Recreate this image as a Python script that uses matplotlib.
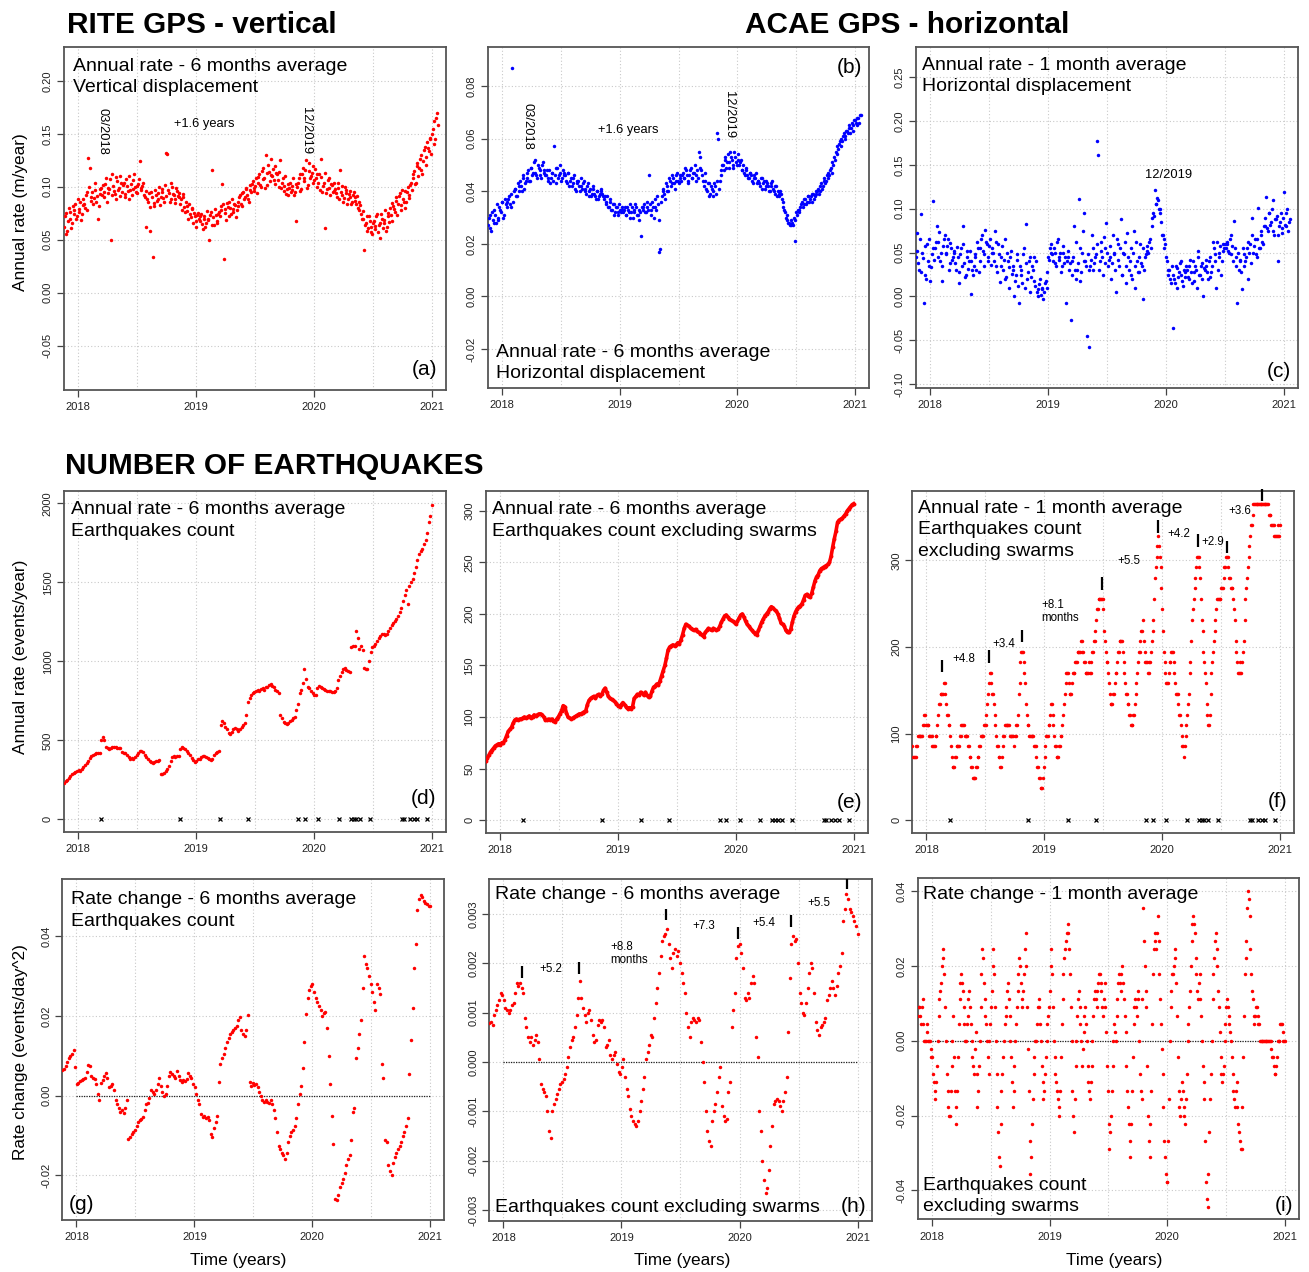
import numpy as np
import matplotlib
matplotlib.use("Agg")
import matplotlib.pyplot as plt

plt.rcParams['font.family'] = ['Liberation Sans', 'DejaVu Sans']
plt.rcParams['axes.unicode_minus'] = False

# ---------------- DATA ----------------
T0 = 2017.88            # first sample (decimal year)
STEP_DAYS = 5           # sampling step of the values below
MID_DAYS = 2.5          # offset of the in-between samples

# (a) RITE vertical annual rate, 6-month average (x 1e-3 m/yr)
a_vals = [62, 75, 58, 80, 70, 66, 78, 84, 72, 79, 86, 74,
          88, 80, 95, 127, 118, 90, 84, 97, 86, 70, 93, 99,
          102, 90, 108, 94, 98, 50, 112, 96, 88, 105, 99, 110,
          95, 104, 90, 101, 110, 97, 92, 106, 100, 94, 103, 124,
          97, 104, 90, 62, 86, 58, 95, 34, 82, 92, 88, 100,
          90, 98, 86, 132, 131, 94, 88, 100, 92, 85, 96, 90,
          84, 78, 90, 76, 82, 70, 74, 80, 66, 72, 62, 75,
          68, 74, 60, 72, 66, 70, 50, 76, 116, 64, 73, 68,
          76, 82, 103, 32, 79, 85, 72, 80, 88, 76, 83, 78,
          86, 92, 82, 95, 90, 98, 88, 102, 95, 105, 99, 108,
          104, 112, 100, 118, 108, 130, 102, 114, 126, 110, 106, 120,
          112, 100, 125, 104, 96, 110, 98, 92, 104, 97, 108, 95,
          68, 104, 112, 98, 118, 108, 125, 102, 115, 110, 120, 106,
          108, 100, 112, 126, 95, 104, 61, 98, 108, 92, 102, 96,
          98, 90, 104, 116, 92, 86, 100, 94, 88, 96, 84, 92,
          90, 84, 80, 86, 74, 70, 40, 66, 58, 72, 62, 55,
          68, 60, 74, 64, 52, 70, 66, 78, 62, 72, 80, 68,
          82, 76, 90, 84, 94, 78, 88, 96, 86, 100, 92, 104,
          108, 115, 104, 122, 118, 130, 112, 135, 128, 142, 134, 146,
          150, 162, 145, 170]
a_mid = [72, 55, 68, 76, 61, 82, 74, 70, 88, 76, 69, 83,
         84, 92, 78, 100, 87, 95, 89, 104, 91, 82, 98, 92,
         95, 103, 86, 99, 107, 92, 101, 93, 109, 97, 91, 104,
         102, 93, 107, 96, 88, 103, 98, 112, 95, 101, 107, 99,
         101, 92, 96, 88, 94, 81, 90, 85, 97, 87, 94, 83,
         95, 89, 102, 91, 97, 86, 104, 93, 88, 99, 91, 94,
         88, 93, 81, 86, 77, 84, 71, 79, 75, 68, 73, 70,
         72, 65, 70, 62, 77, 69, 73, 64, 71, 79, 66, 74,
         72, 78, 84, 75, 69, 81, 86, 74, 79, 84, 71, 82,
         90, 84, 94, 88, 99, 92, 86, 97, 103, 96, 101, 94,
         109, 102, 115, 107, 99, 113, 121, 105, 111, 117, 103, 113,
         106, 114, 99, 108, 101, 93, 103, 99, 95, 101, 92, 103,
         100, 108, 96, 112, 105, 116, 99, 122, 108, 113, 104, 117,
         112, 104, 97, 109, 101, 113, 94, 106, 99, 103, 95, 104,
         94, 99, 88, 95, 101, 89, 97, 84, 93, 90, 86, 95,
         87, 91, 78, 83, 70, 77, 64, 72, 61, 68, 57, 66,
         63, 72, 57, 66, 74, 61, 69, 58, 75, 67, 73, 85,
         79, 87, 73, 91, 83, 97, 86, 80, 95, 89, 102, 97,
         112, 103, 120, 110, 126, 116, 124, 138, 121, 137, 145, 131,
         155, 140, 165, 158]

# (b) ACAE horizontal annual rate, 6-month average (x 1e-3 m/yr)
b_vals = [27, 31, 25, 29, 33, 28, 30, 34, 32, 36, 31, 35,
          36, 38, 34, 87, 40, 41, 38, 42, 44, 40, 45, 43,
          45, 48, 44, 49, 47, 52, 46, 50, 48, 45, 51, 47,
          46, 44, 48, 45, 47, 57, 43, 49, 46, 50, 45, 47,
          46, 43, 47, 44, 42, 45, 41, 43, 44, 40, 42, 43,
          41, 39, 43, 40, 38, 41, 39, 37, 40, 38, 41, 39,
          37, 35, 38, 34, 36, 33, 35, 32, 34, 31, 33, 34,
          32, 34, 31, 33, 35, 32, 30, 33, 34, 31, 29, 23,
          33, 35, 32, 34, 46, 33, 36, 30, 34, 38, 17, 18,
          38, 41, 37, 42, 40, 44, 43, 45, 41, 46, 44, 45,
          44, 47, 45, 48, 43, 46, 49, 45, 47, 44, 48, 55,
          53, 46, 42, 44, 40, 43, 39, 41, 38, 42, 62, 60,
          44, 48, 50, 52, 49, 54, 51, 53, 50, 55, 51, 52,
          50, 52, 48, 47, 49, 46, 45, 47, 44, 46, 45, 43,
          44, 42, 45, 43, 41, 44, 42, 40, 43, 41, 39, 42,
          40, 38, 39, 36, 33, 30, 29, 28, 27, 28, 30, 21,
          31, 33, 34, 36, 35, 37, 36, 38, 37, 36, 39, 38,
          39, 41, 40, 43, 42, 45, 44, 47, 46, 49, 51, 53,
          55, 57, 58, 60, 59, 62, 61, 63, 64, 62, 66, 65,
          67, 65, 68, 69]
b_mid = [30, 26, 32, 28, 31, 35, 29, 33, 36, 30, 37, 34,
         37, 35, 39, 36, 41, 38, 43, 40, 42, 46, 41, 44,
         47, 44, 49, 46, 51, 47, 45, 49, 46, 50, 48, 46,
         48, 45, 43, 47, 44, 46, 49, 45, 47, 44, 48, 46,
         44, 47, 42, 45, 43, 46, 40, 44, 42, 45, 41, 44,
         40, 42, 38, 41, 39, 42, 38, 40, 37, 39, 40, 38,
         38, 36, 34, 37, 33, 35, 31, 34, 32, 35, 32, 33,
         33, 31, 34, 32, 30, 34, 32, 35, 31, 33, 32, 34,
         34, 32, 36, 33, 35, 31, 34, 37, 33, 35, 29, 36,
         40, 39, 43, 40, 45, 42, 46, 43, 44, 47, 43, 46,
         46, 45, 49, 46, 44, 48, 45, 47, 50, 46, 45, 49,
         48, 44, 47, 41, 43, 38, 42, 40, 43, 39, 44, 41,
         46, 50, 48, 53, 51, 49, 55, 52, 49, 53, 50, 54,
         51, 48, 50, 46, 48, 45, 47, 46, 43, 45, 47, 44,
         43, 45, 41, 44, 42, 43, 40, 42, 44, 40, 42, 38,
         39, 40, 37, 34, 32, 31, 28, 27, 29, 27, 29, 32,
         33, 32, 35, 34, 37, 35, 38, 36, 38, 39, 37, 40,
         40, 39, 42, 41, 44, 43, 46, 45, 48, 47, 50, 52,
         54, 56, 59, 57, 61, 60, 63, 62, 65, 64, 63, 67,
         66, 68, 66, 69]

# (c) ACAE horizontal annual rate, 1-month average (x 1e-3 m/yr)
c_vals = [45, 72, 30, 94, 50, -7, 25, 60, 35, 18, 48, 109,
          55, 80, 62, 40, 18, 58, 70, 50, 65, 38, 55, 45,
          50, 30, 45, 15, 55, 80, 38, 25, 52, 40, 3, 30,
          35, 45, 62, 28, 55, 70, 48, 76, 60, 40, 65, 55,
          50, 75, 35, 60, 16, 45, 30, 66, 22, 40, 10, 52,
          35, 0, 25, 48, -7, 30, 15, 55, 83, 20, 40, 5,
          35, 45, 12, 5, 0, 20, 8, -3, 15, 10, 45, 55,
          60, 40, 50, 35, 65, 45, 28, 50, 38, -8, 45, 30,
          -27, 40, 80, 20, 30, 111, 18, 50, 95, 40, -45, -58,
          35, 70, 30, 45, 177, 161, 40, 62, 25, 55, 84, 35,
          45, 20, 70, 50, 5, 60, 35, 88, 25, 48, 15, 72,
          30, 55, 20, 75, 10, 40, 28, 60, 35, -3, 45, 52,
          50, 65, 90, 95, 121, 105, 110, 100, 85, 70, 65, 45,
          25, 30, 15, -36, 20, 35, 10, 28, 40, 18, 30, 22,
          30, 20, 42, 15, 28, 35, 10, 52, 25, 38, 0, 30,
          35, 20, 45, 28, 62, 40, 10, 30, 50, 25, 60, 55,
          55, 62, 50, 70, 58, 86, 45, -7, 30, 40, 8, 35,
          40, 55, 20, 60, 90, 50, 65, 45, 101, 55, 70, 60,
          80, 113, 75, 95, 85, 110, 70, 88, 40, 80, 95, 72,
          119, 80, 100, 85]
c_mid = [52, 38, 65, 28, 44, 58, 20, 40, 66, 33, 55, 42,
         62, 45, 73, 50, 35, 66, 48, 57, 30, 61, 42, 52,
         38, 56, 28, 48, 35, 60, 22, 45, 31, 52, 40, 25,
         48, 30, 55, 40, 66, 52, 35, 62, 45, 58, 36, 50,
         40, 62, 28, 48, 35, 58, 42, 20, 50, 33, 45, 26,
         30, 18, 42, 12, 35, 25, 48, 10, 38, 28, 45, 22,
         30, 18, 40, 8, 14, 2, 10, 5, 18, 28, 42, 50,
         48, 55, 38, 62, 42, 50, 35, 58, 45, 40, 52, 38,
         25, 45, 30, 62, 38, 55, 28, 75, 40, 35, 48, 30,
         42, 55, 38, 48, 60, 30, 52, 45, 68, 38, 50, 42,
         58, 38, 48, 30, 65, 42, 55, 25, 50, 62, 35, 45,
         40, 25, 50, 35, 62, 28, 45, 38, 55, 30, 48, 58,
         62, 55, 80, 92, 105, 112, 100, 95, 70, 55, 60, 40,
         30, 20, 35, 25, 15, 32, 22, 38, 25, 12, 28, 35,
         22, 35, 28, 40, 18, 30, 45, 25, 35, 20, 32, 42,
         28, 40, 22, 35, 55, 48, 62, 45, 58, 40, 52, 60,
         60, 52, 65, 48, 40, 55, 35, 50, 42, 28, 55, 48,
         45, 62, 50, 38, 70, 58, 48, 65, 55, 75, 62, 80,
         90, 78, 95, 82, 100, 75, 88, 92, 70, 85, 78, 90,
         82, 95, 75, 88]

# (d) earthquakes annual rate, 6-month average (events/yr)
d_vals = [231, 240, 252, 262, 275, 288, 295, 300, 305, 310, 305, 318,
          330, 345, 358, 372, 390, 400, 410, 415, 418, 420, 420, 500,
          520, 500, 455, 450, 448, 452, 455, 458, 455, 450, 452, 450,
          425, 422, 420, 410, 395, 385, 390, 385, 395, 410, 420, 430,
          435, 425, 410, 395, 380, 370, 360, 355, 365, 370, 372, 375,
          290, 285, 295, 305, 320, 340, 370, 395, 398, 395, 400, 400,
          445, 455, 450, 445, 435, 420, 405, 390, 375, 365, 370, 380,
          385, 395, 400, 398, 395, 390, 385, 375, 385, 405, 420, 425,
          430, 600, 620, 610, 585, 570, 545, 540, 555, 570, 580, 575,
          560, 570, 585, 600, 610, 660, 740, 770, 790, 800, 805, 810,
          820, 815, 825, 830, 820, 835, 840, 850, 855, 845, 835, 820,
          810, 800, 660, 640, 615, 610, 605, 610, 620, 630, 640, 650,
          690, 730, 800, 820, 860, 950, 890, 840, 830, 815, 800, 790,
          785, 830, 845, 840, 830, 825, 820, 815, 812, 810, 808, 805,
          810, 830, 880, 910, 930, 950, 955, 945, 940, 930, 1090, 1100,
          1095, 1190, 1150, 1080, 1100, 1070, 955, 950, 950, 1000, 1060, 1090,
          1100, 1110, 1130, 1150, 1160, 1170, 1170, 1165, 1175, 1190, 1210, 1230,
          1240, 1255, 1270, 1290, 1310, 1340, 1380, 1420, 1450, 1360, 1480, 1500,
          1520, 1560, 1600, 1640, 1680, 1700, 1710, 1740, 1770, 1810, 1880, 1920,
          1990]

# (e) earthquakes excluding swarms, annual rate, 6-month average
e_vals = [57, 60, 63, 66, 68, 70, 72, 73, 74, 73, 75, 75,
          78, 82, 86, 88, 90, 94, 97, 98, 97, 98, 98, 99,
          100, 99, 100, 101, 99, 100, 102, 101, 102, 103, 103, 102,
          100, 97, 97, 98, 97, 98, 96, 95, 98, 100, 103, 106,
          111, 110, 104, 100, 99, 98, 99, 100, 101, 102, 103, 103,
          104, 105, 106, 112, 116, 118, 119, 120, 118, 121, 122, 120,
          122, 126, 128, 124, 120, 118, 117, 116, 115, 113, 111, 110,
          112, 114, 112, 110, 108, 109, 108, 110, 118, 120, 122, 121,
          124, 123, 121, 124, 121, 119, 120, 125, 129, 130, 132, 131,
          135, 140, 145, 150, 157, 165, 168, 169, 170, 169, 170, 172,
          171, 175, 180, 186, 190, 189, 188, 186, 185, 184, 185, 183,
          182, 181, 180, 178, 182, 184, 186, 185, 184, 186, 185, 184,
          185, 188, 192, 195, 198, 199, 197, 195, 194, 193, 192, 190,
          193, 196, 199, 200, 197, 193, 190, 188, 186, 184, 182, 181,
          180, 184, 188, 192, 195, 198, 200, 202, 205, 207, 206, 204,
          203, 200, 196, 191, 190, 188, 184, 182, 182, 185, 192, 198,
          202, 205, 207, 208, 210, 214, 218, 219, 217, 216, 220, 226,
          232, 236, 238, 242, 244, 245, 246, 247, 248, 250, 256, 265,
          273, 280, 289, 291, 292, 293, 295, 297, 300, 302, 304, 306,
          307]

# (f) events in a 30-day window, excluding swarms (annual rate = count*365/30)
f_counts = [7, 6, 6, 7, 8, 8, 8, 9, 10, 9, 9, 8,
            8, 7, 7, 8, 10, 11, 12, 12, 13, 11, 10, 9,
            7, 5, 5, 6, 7, 7, 8, 9, 9, 8, 8, 7,
            6, 5, 4, 4, 5, 6, 7, 8, 8, 9, 10, 12,
            14, 13, 12, 10, 8, 7, 6, 5, 7, 8, 9, 9,
            9, 8, 8, 7, 8, 9, 12, 15, 16, 15, 13, 10,
            9, 8, 8, 8, 7, 6, 5, 4, 3, 4, 6, 8,
            8, 9, 11, 10, 8, 7, 6, 7, 8, 9, 11, 13,
            14, 13, 12, 13, 14, 15, 15, 16, 16, 17, 16, 15,
            14, 14, 14, 15, 16, 17, 19, 20, 21, 21, 21, 18,
            16, 15, 13, 11, 11, 12, 14, 15, 16, 17, 17, 15,
            13, 12, 11, 10, 9, 10, 11, 13, 15, 16, 18, 19,
            16, 15, 14, 15, 16, 18, 21, 24, 26, 26, 24, 20,
            16, 14, 13, 14, 15, 16, 15, 13, 12, 11, 10, 8,
            7, 7, 9, 11, 14, 17, 20, 22, 24, 25, 24, 21,
            18, 15, 13, 10, 9, 12, 15, 17, 19, 21, 21, 21,
            22, 23, 24, 25, 24, 23, 22, 21, 19, 16, 14, 14,
            14, 16, 19, 22, 24, 26, 28, 29, 30, 30, 30, 30,
            30, 30, 30, 30, 30, 29, 29, 28, 28, 27, 27, 27,
            28]
f_mid = [6, 6, 7, 8, 8, 8, 9, 10, 9, 9, 8, 8,
         7, 7, 8, 9, 11, 12, 12, 13, 12, 10, 9, 8,
         6, 5, 6, 7, 7, 8, 9, 9, 8, 8, 7, 6,
         5, 4, 4, 5, 6, 7, 8, 8, 9, 9, 11, 13,
         14, 12, 11, 9, 7, 6, 5, 6, 8, 9, 9, 9,
         8, 8, 8, 8, 9, 10, 13, 16, 16, 14, 11, 9,
         8, 8, 8, 7, 7, 5, 4, 3, 3, 5, 7, 8,
         9, 10, 11, 9, 7, 6, 6, 7, 8, 10, 12, 14,
         14, 12, 12, 14, 14, 15, 16, 16, 17, 16, 15, 14,
         14, 15, 14, 16, 17, 18, 20, 21, 21, 21, 20, 17,
         15, 14, 12, 11, 12, 13, 14, 16, 17, 17, 16, 14,
         12, 11, 10, 9, 9, 10, 12, 14, 16, 17, 18, 17,
         15, 15, 14, 15, 17, 19, 23, 25, 27, 25, 22, 18,
         15, 13, 13, 15, 16, 16, 14, 12, 12, 10, 9, 7,
         6, 8, 10, 12, 15, 19, 21, 23, 25, 25, 23, 19,
         16, 14, 11, 9, 10, 14, 16, 18, 20, 21, 21, 22,
         22, 24, 25, 25, 23, 22, 22, 20, 17, 15, 14, 15,
         15, 17, 21, 23, 25, 27, 28, 30, 30, 30, 30, 30,
         30, 30, 30, 30, 30, 29, 28, 28, 27, 27, 28, 27]
WINDOW_DAYS = 30

# (g) rate change, 6-month average, all earthquakes (x 1e-3 events/day^2)
g_vals = [6.5, 6.6, 7.5, 8.5, 9.5, 10, 10.5, 11.5, 7.3, 3.0, 3.3, 3.6,
          4.0, 4.2, 4.5, 6.0, 7.7, 7.5, 5.0, 4.4, 4.2, 3.0, 0.5, -1.1,
          3.1, 4.0, 5.0, 5.6, 4.5, 2.3, 2.5, 3.0, 1.5, -1.0, -2.0, -3.0,
          -4.0, -3.5, -4.4, -3.0, -1.0, -10.8, -10.3, -9.5, -9.0, -8.6, -7.5, -6.5,
          -6.0, -5.8, -5.3, -3.5, -2.2, -1.8, -0.5, 1.4, 1.0, 0.5, 1.5, 3.0,
          4.5, 2.5, 1.0, 0.0, 0.5, 2.5, 5.0, 6.0, 5.5, 5.0, 4.5, 6.3,
          5.0, 4.0, 3.5, 4.0, 3.8, 4.2, 5.6, 5.0, 4.5, 3.0, 2.3, 0.5,
          -1.0, -2.0, -4.5, -5.3, -5.0, -5.6, -5.3, -6.0, -9.5, -10.3, -8.0, -6.5,
          -5.0, 3.5, 8.0, 9.5, 10.5, 12.0, 13.5, 14.5, 15.5, 16.0, 16.5, 17.0,
          17.5, 19.0, 19.8, 16.5, 15.5, 15.0, 16.5, 20.2, 3.5, 2.5, 3.2, 2.8,
          3.0, 2.3, 1.0, 0.0, -1.0, -1.5, -1.0, -1.5, -1.8, -1.2, -2.0, -3.5,
          -5.5, -9.0, -12.5, -13.5, -14.5, -15.0, -15.8, -14.5, -11.5, -10.0, -9.0, -8.5,
          -7.5, -5.5, -2.0, 0.5, 2.5, 7.0, 13.5, 20.5, 24.5, 26.5, 27.5, 28.0,
          26.0, 24.5, 23.5, 22.5, 21.5, 20.0, 20.7, 21.0, 17.0, 10.0, 3.0, -5.0,
          -12.0, -26.0, -26.2, -25.0, -23.0, -22.0, -21.0, -19.5, -17.5, -16.0, -15.0, -11.0,
          -4.0, -3.0, 9.5, 12.0, 15.5, 19.0, 27.0, 35.0, 33.0, 32.0, 30.0, 28.0,
          26.0, 23.5, 21.5, 28.0, 27.0, 25.5, 8.0, 4.5, -11.0, -11.5, -17.5, -19.0,
          -20.0, -17.0, -15.5, -14.5, -13.5, -12.5, -11.5, -10.0, -9.0, -7.5, -5.5, 5.5,
          14.0, 22.0, 32.0, 38.0, 46.5, 49.5, 50.5, 50.0, 49.0, 48.5, 48.0, 47.5,
          47.5]

# (h) rate change, 6-month average, excluding swarms (x 1e-4 events/day^2)
h_vals = [7.8, 8.0, 7.5, 9.5, 10.5, 11.5, 12.5, 14.0, 13.5, 12.5, 11.0, 10.5,
          10.0, 10.5, 11.5, 12.0, 14.0, 16.0, 15.5, 16.0, 15.0, 14.0, 9.0, 7.0,
          5.0, 4.0, 5.0, 3.5, 4.5, 5.5, 4.0, 0.5, -4.4, -5.5, -6.0, -7.0,
          -10.0, -14.0, -15.5, -10.0, -8.5, -7.5, -6.5, -5.5, -4.5, -4.0, -3.5, -2.5,
          -1.0, 1.0, 3.0, 4.5, 5.0, 7.0, 9.5, 13.0, 16.5, 13.0, 11.0, 9.5,
          8.0, 10.0, 10.5, 8.5, 5.5, 4.0, 4.5, 7.5, 8.5, 8.0, 8.5, 7.0,
          3.0, 3.5, 4.5, 1.5, 0.5, 1.5, 2.0, -0.5, -2.0, -2.5, -1.0, 0.5,
          -3.0, -5.5, -7.0, -9.5, -11.0, -12.0, -12.5, -13.0, -12.0, -10.0, -8.0, -5.5,
          -3.0, 0.5, 2.0, 3.5, 5.5, 5.0, 9.0, 12.0, 15.0, 18.0, 21.5, 24.5,
          25.5, 26.0, 27.0, 24.0, 21.0, 19.0, 22.0, 23.0, 21.5, 22.5, 20.0, 18.0,
          16.0, 14.0, 10.0, 7.0, 5.0, 8.0, 9.0, 8.5, 8.0, 9.0, 8.5, 4.0,
          0.0, -4.0, -10.0, -14.0, -16.0, -17.0, -12.0, -10.0, -8.5, -6.0, -3.0, -1.0,
          -9.0, -11.0, -12.0, -11.5, -6.0, -4.0, 7.0, 10.5, 14.0, 21.0, 23.5, 24.0,
          22.0, 19.0, 13.0, 12.5, 14.0, 13.0, 16.0, 17.5, 16.0, 5.0, 1.0, -10.0,
          -14.0, -20.0, -24.0, -26.5, -25.5, -22.0, -17.0, -13.0, -8.5, -8.0, -7.5, -8.0,
          -9.0, -10.0, -8.0, -6.0, -3.0, 6.0, 17.0, 24.0, 25.5, 24.5, 25.0, 20.0,
          14.0, 12.0, 10.0, 9.5, 12.0, 15.0, 18.0, 20.0, 19.0, 14.0, 8.0, 6.5,
          5.5, 7.0, 7.5, 8.0, 9.0, 12.5, 13.5, 15.0, 16.5, 15.0, 13.5, 15.5,
          18.0, 19.5, 22.0, 28.5, 31.0, 34.0, 33.0, 31.0, 30.5, 29.5, 28.5, 27.5,
          26.0]

# (i) rate change, 1-month average, excluding swarms (units of 1/450 events/day^2)
i_counts = [3, 4, 2, 5, 0, 0, 2, 0, -1, -2, -5, -7,
            -3, 3, 6, 9, 11, 4, -4, -8, -9, -3, 3, -6,
            -10, -2, 5, 8, 6, 2, 0, 3, 6, 2, -2, -4,
            1, -8, -3, 4, 11, 7, 3, 0, -4, 2, 6, 11,
            4, -4, -11, -15, -6, -2, 2, 4, 7, 3, -2, -8,
            -3, 2, 6, 10, 7, 4, 8, 13, 4, -6, -16, -10,
            -4, 0, 2, 5, 2, -3, -7, -4, 0, 3, 6, 11,
            4, -2, -5, -7, -9, -2, 5, 10, 12, 14, 11, 4,
            -6, -11, -3, 3, 6, 2, -3, 1, 4, 0, -5, -7,
            -3, 3, 6, 4, 7, 8, 6, 3, 7, 1, -6, -13,
            -9, -3, 2, 0, 5, 8, 6, 9, 5, 1, -6, -10,
            -14, -6, 2, 5, 3, 6, -4, -7, 16, 9, 4, -9,
            -14, -6, 8, 13, 11, 15, 8, 2, -4, -12, -16, -17,
            -7, 4, 8, 9, 11, 3, -6, -9, -5, -8, -10, -4,
            2, 6, 12, 15, 13, 8, 5, 8, 3, -3, -7, -17,
            -20, -11, -4, 5, 10, 13, 9, 4, -2, -5, -3, 2,
            5, 3, 1, -2, -6, -8, -5, -10, -12, -13, -2, 8,
            12, 18, 15, 8, 5, 2, 4, 3, 2, 0, 0, 0,
            0, 0, 0, 0, -2, -3, -4, -2, 0, 2, 2, 0,
            0]
i_mid = [4, 3, 4, 2, 0, 1, 0, 0, -2, -4, -6, -5,
         0, 5, 7, 10, 8, 0, -6, -9, -6, 0, -2, -8,
         -6, 2, 7, 7, 4, 0, 2, 5, 4, 0, -3, -1,
         -4, -6, 0, 8, 10, 5, 2, -2, 0, 4, 9, 8,
         0, -8, -14, -10, -4, 0, 3, 6, 5, 0, -5, -6,
         0, 4, 8, 9, 5, 6, 11, 9, -1, -12, -14, -7,
         -2, 0, 4, 4, 0, -5, -6, -2, 2, 4, 9, 8,
         0, -4, -6, -8, -6, 2, 8, 11, 13, 13, 8, 0,
         -9, -7, 0, 5, 4, 0, -1, 3, 2, -3, -6, -5,
         0, 5, 5, 6, 8, 7, 4, 5, 4, -3, -10, -11,
         -6, 0, 1, 3, 7, 7, 8, 7, 3, -3, -8, -12,
         -10, -2, 4, 4, 5, 0, -6, 5, 12, 6, -3, -12,
         -10, 2, 11, 12, 13, 12, 5, -1, -8, -14, -17, -12,
         0, 6, 8, 10, 7, -2, -8, -7, -6, -9, -7, 0,
         4, 9, 14, 14, 10, 6, 7, 5, 0, -5, -12, -19,
         -16, -7, 0, 8, 12, 11, 6, 1, -4, -4, 0, 4,
         4, 2, 0, -4, -7, -6, -8, -11, -13, -8, 3, 10,
         16, 17, 11, 6, 3, 3, 4, 2, 0, 0, 0, 0,
         0, 0, 0, -1, -2, -4, -3, 0, 0, 2, 1, 0]
I_UNIT = 1 / 450

# swarm dates (x markers at zero)
swarms = [2018.197, 2018.865, 2019.199, 2019.438, 2019.866, 2019.921, 2020.033,
          2020.209, 2020.310, 2020.337, 2020.360, 2020.392, 2020.475, 2020.746,
          2020.766, 2020.811, 2020.845, 2020.876, 2020.959]

# annotations
ann_a = [(2018.21, 0.152, "03/2018"), (2019.93, 0.153, "12/2019")]
ann_a_txt = (2019.07, 0.159, "+1.6 years")
ann_b = [(2018.214, 0.0647, "03/2018"), (2019.93, 0.069, "12/2019")]
ann_b_txt = (2019.07, 0.0632, "+1.6 years")
ann_c = (2020.02, 0.138, "12/2019")

f_bars = [(2018.128, 171, 185), (2018.531, 182, 196), (2018.8125, 206, 220),
          (2019.494, 266, 281), (2019.966, 332, 347), (2020.307, 316, 330),
          (2020.548, 309, 323), (2020.846, 369, 382)]
f_labels = [(2018.318, 186, "+4.8"), (2018.659, 203, "+3.4"), (2019.719, 299, "+5.5"),
            (2020.145, 331, "+4.2"), (2020.43, 321, "+2.9"), (2020.656, 357, "+3.6")]
f_months = (2018.975, 248, 234)

h_bars = [(2018.153, 0.00171, 0.00194), (2018.637, 0.00179, 0.00203),
          (2019.377, 0.00287, 0.00311), (2019.983, 0.00250, 0.00274),
          (2020.436, 0.00274, 0.00297), (2020.907, 0.00351, 0.00372)]
h_labels = [(2018.405, 0.00189, "+5.2"), (2019.70, 0.00275, "+7.3"),
            (2020.204, 0.00282, "+5.4"), (2020.669, 0.00322, "+5.5")]
h_months = (2018.905, 0.00233, 0.00207)

# ---------------- FIGURE ----------------
W, H = 1309, 1272
fig = plt.figure(figsize=(W / 100, H / 100), dpi=100)


def px_axes(l, t, r, b):
    return fig.add_axes([l / W, 1 - b / H, (r - l) / W, (b - t) / H])


def times(n, offset_days=0.0):
    return T0 + (np.arange(n) * STEP_DAYS + offset_days) / 365.25


GRID = dict(color='#c9c9c9', lw=0.8, ls=(0, (1, 2)), zorder=0)
RED, BLUE = '#ff0000', '#0000ff'


def style(ax, ylim, yticks, fmt):
    ax.set_xlim(2017.88, 2021.12)
    ax.set_ylim(*ylim)
    for x in [2018, 2018.5, 2019, 2019.5, 2020, 2020.5, 2021]:
        ax.axvline(x, **GRID)
    for y in yticks:
        ax.axhline(y, **GRID)
    ax.set_xticks([2018, 2019, 2020, 2021])
    ax.set_xticklabels(['2018', '2019', '2020', '2021'])
    ax.set_yticks(yticks)
    ax.set_yticklabels([fmt.format(v) for v in yticks], rotation=90, va='center')
    ax.tick_params(direction='out', length=5, width=0.9, colors='#444444',
                   labelcolor='#222222', labelsize=8, pad=3)
    ax.tick_params(axis='x', pad=4)
    for sp in ax.spines.values():
        sp.set_color('#555555')
        sp.set_linewidth(1.3)


def dots(ax, t, v, color, ms=2.5):
    ax.plot(t, v, 'o', ms=ms, color=color, mec='none', zorder=3)


def ptext(ax, x, y, s, size=14, ha='left'):
    ax.text(x, y, s, transform=ax.transAxes, fontsize=size, ha=ha, va='baseline', zorder=5)


TXT = 14
LET = 15

# (a)
ax = px_axes(64, 47, 446, 390)
style(ax, (-0.092, 0.232), [-0.05, 0.0, 0.05, 0.10, 0.15, 0.20], '{:.2f}')
dots(ax, times(len(a_vals)), np.array(a_vals) * 1e-3, RED)
dots(ax, times(len(a_mid), MID_DAYS), np.array(a_mid) * 1e-3, RED)
ptext(ax, 0.024, 0.931, "Annual rate - 6 months average", TXT)
ptext(ax, 0.024, 0.868, "Vertical displacement", TXT)
ptext(ax, 0.978, 0.044, "(a)", LET, 'right')
for x, y, s in ann_a:
    ax.text(x, y, s, rotation=-90, fontsize=9.3, ha='center', va='center')
ax.text(*ann_a_txt, fontsize=9.3, ha='center', va='center')

# (b)
ax = px_axes(488, 47, 869, 388)
style(ax, (-0.0348, 0.0948), [-0.02, 0.0, 0.02, 0.04, 0.06, 0.08], '{:.2f}')
dots(ax, times(len(b_vals)), np.array(b_vals) * 1e-3, BLUE)
dots(ax, times(len(b_mid), MID_DAYS), np.array(b_mid) * 1e-3, BLUE)
ptext(ax, 0.021, 0.092, "Annual rate - 6 months average", TXT)
ptext(ax, 0.021, 0.030, "Horizontal displacement", TXT)
ptext(ax, 0.983, 0.923, "(b)", LET, 'right')
for x, y, s in ann_b:
    ax.text(x, y, s, rotation=-90, fontsize=9.3, ha='center', va='center')
ax.text(*ann_b_txt, fontsize=9.3, ha='center', va='center')

# (c)
ax = px_axes(915.7, 47, 1298, 388)
style(ax, (-0.1044, 0.2844), [-0.10, -0.05, 0.0, 0.05, 0.10, 0.15, 0.20, 0.25], '{:.2f}')
dots(ax, times(len(c_vals)), np.array(c_vals) * 1e-3, BLUE)
dots(ax, times(len(c_mid), MID_DAYS), np.array(c_mid) * 1e-3, BLUE)
ptext(ax, 0.016, 0.9326, "Annual rate - 1 month average", TXT)
ptext(ax, 0.016, 0.872, "Horizontal displacement", TXT)
ptext(ax, 0.981, 0.033, "(c)", LET, 'right')
ax.text(*ann_c, fontsize=9.3, ha='center', va='center')

# (d)
ax = px_axes(64, 490.7, 446, 832)
style(ax, (-80, 2080), [0, 500, 1000, 1500, 2000], '{:.0f}')
dots(ax, times(len(d_vals)), d_vals, RED)
ax.plot(swarms, np.zeros(len(swarms)), 'x', color='k', ms=3.2, mew=0.9, zorder=4)
ptext(ax, 0.0175, 0.931, "Annual rate - 6 months average", TXT)
ptext(ax, 0.0175, 0.867, "Earthquakes count", TXT)
ptext(ax, 0.9757, 0.082, "(d)", LET, 'right')

# (e)
ax = px_axes(485.7, 491, 867.7, 832.7)
style(ax, (-12.3, 319.3), [0, 50, 100, 150, 200, 250, 300], '{:.0f}')
te = times(len(e_vals))
ax.plot(te, e_vals, '-', lw=2.6, color=RED, zorder=3)
dots(ax, te, e_vals, RED, 2.8)
ax.plot(swarms, np.zeros(len(swarms)), 'x', color='k', ms=3.2, mew=0.9, zorder=4)
ptext(ax, 0.0173, 0.932, "Annual rate - 6 months average", TXT)
ptext(ax, 0.0173, 0.868, "Earthquakes count excluding swarms", TXT)
ptext(ax, 0.986, 0.0714, "(e)", LET, 'right')

# (f)
ax = px_axes(912.3, 490.7, 1294, 832.7)
style(ax, (-14.6, 380.6), [0, 100, 200, 300], '{:.0f}')
dots(ax, times(len(f_counts)), np.array(f_counts) * 365 / WINDOW_DAYS, RED)
dots(ax, times(len(f_mid), MID_DAYS), np.array(f_mid) * 365 / WINDOW_DAYS, RED)
ax.plot(swarms, np.zeros(len(swarms)), 'x', color='k', ms=3.2, mew=0.9, zorder=4)
ptext(ax, 0.014, 0.934, "Annual rate - 1 month average", TXT)
ptext(ax, 0.014, 0.8725, "Earthquakes count", TXT)
ptext(ax, 0.014, 0.809, "excluding swarms", TXT)
ptext(ax, 0.9825, 0.076, "(f)", LET, 'right')
for x, y0, y1 in f_bars:
    ax.vlines(x, y0, y1, colors='k', lw=1.6, zorder=6, clip_on=False)
for x, y, s in f_labels:
    ax.text(x, y, s, fontsize=8.3, ha='center', va='center')
ax.text(f_months[0], f_months[1], "+8.1", fontsize=8.3, ha='left', va='center')
ax.text(f_months[0], f_months[2], "months", fontsize=8.3, ha='left', va='center')

# (g)
ax = px_axes(62.3, 879, 444.3, 1220)
style(ax, (-0.0312, 0.0544), [-0.02, 0.0, 0.02, 0.04], '{:.2f}')
ax.hlines(0, 2018, 2021, colors='#222222', lw=0.9, linestyles=(0, (1, 1)), zorder=2)
dots(ax, times(len(g_vals)), np.array(g_vals) * 1e-3, RED)
ptext(ax, 0.022, 0.926, "Rate change - 6 months average", TXT)
ptext(ax, 0.022, 0.862, "Earthquakes count", TXT)
ptext(ax, 0.0175, 0.029, "(g)", LET)

# (h)
ax = px_axes(489.3, 879, 871.7, 1220.7)
style(ax, (-0.00322, 0.00371), [-0.003, -0.002, -0.001, 0.0, 0.001, 0.002, 0.003], '{:.3f}')
ax.hlines(0, 2018, 2021, colors='#222222', lw=0.9, linestyles=(0, (1, 1)), zorder=2)
dots(ax, times(len(h_vals)), np.array(h_vals) * 1e-4, RED)
ptext(ax, 0.015, 0.941, "Rate change - 6 months average", TXT)
ptext(ax, 0.015, 0.0246, "Earthquakes count excluding swarms", TXT)
ptext(ax, 0.987, 0.0246, "(h)", LET, 'right')
for x, y0, y1 in h_bars:
    ax.vlines(x, y0, y1, colors='k', lw=1.6, zorder=6, clip_on=False)
for x, y, s in h_labels:
    ax.text(x, y, s, fontsize=8.3, ha='center', va='center')
ax.text(h_months[0], h_months[1], "+8.8", fontsize=8.3, ha='left', va='center')
ax.text(h_months[0], h_months[2], "months", fontsize=8.3, ha='left', va='center')

# (i)
ax = px_axes(917.7, 878.3, 1299, 1219.3)
style(ax, (-0.0477, 0.0434), [-0.04, -0.02, 0.0, 0.02, 0.04], '{:.2f}')
ax.hlines(0, 2018, 2021, colors='#222222', lw=0.9, linestyles=(0, (1, 1)), zorder=2)
dots(ax, times(len(i_counts)), np.array(i_counts) * I_UNIT, RED)
dots(ax, times(len(i_mid), MID_DAYS), np.array(i_mid) * I_UNIT, RED)
ptext(ax, 0.013, 0.938, "Rate change - 1 month average", TXT)
ptext(ax, 0.013, 0.086, "Earthquakes count", TXT)
ptext(ax, 0.013, 0.025, "excluding swarms", TXT)
ptext(ax, 0.985, 0.025, "(i)", LET, 'right')

# titles and axis labels
TSZ = 21.4
fig.text(67 / W, 1 - 33 / H, "RITE GPS - vertical", fontsize=TSZ, fontweight='bold', va='baseline')
fig.text(745 / W, 1 - 33 / H, "ACAE GPS - horizontal", fontsize=TSZ, fontweight='bold', va='baseline')
fig.text(65 / W, 1 - 474 / H, "NUMBER OF EARTHQUAKES", fontsize=TSZ, fontweight='bold', va='baseline')

fig.text(20.7 / W, 1 - 212.5 / H, "Annual rate (m/year)", rotation=90, fontsize=12.4, ha='center', va='center')
fig.text(20.7 / W, 1 - 656.7 / H, "Annual rate (events/year)", rotation=90, fontsize=12.4, ha='center', va='center')
fig.text(20.7 / W, 1 - 1051.7 / H, "Rate change (events/day^2)", rotation=90, fontsize=12.4, ha='center', va='center')
for xc in (238, 682.3, 1114.3):
    fig.text(xc / W, 1 - 1260 / H, "Time (years)", fontsize=12.4, ha='center', va='center')

fig.savefig("out.png", dpi=100)
